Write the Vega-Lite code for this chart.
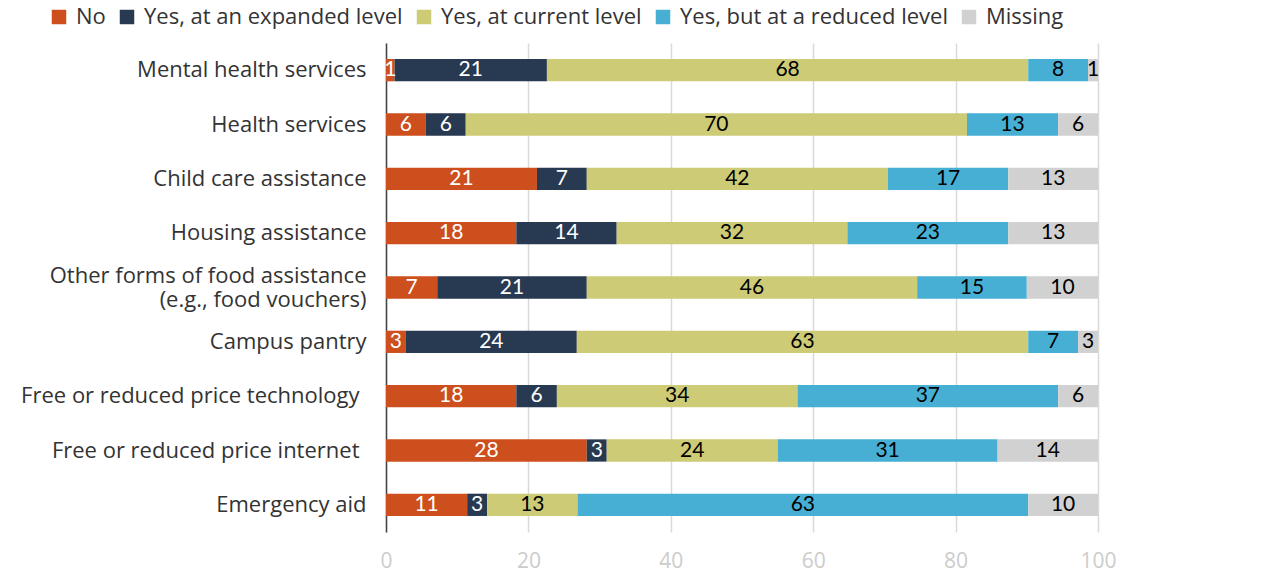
{
  "$schema": "https://vega.github.io/schema/vega-lite/v6.json",
  "width": 712,
  "height": 489,
  "autosize": {"type": "none"},
  "padding": {"left": 386, "top": 43, "right": 182, "bottom": 44},
  "config": {
    "font": "Open Sans",
    "view": {"stroke": null}
  },
  "data": {
    "values": [
      {"category": "Mental health services", "series": "No", "ord": 1, "value": 1.2},
      {"category": "Mental health services", "series": "Yes, at an expanded level", "ord": 2, "value": 21.4},
      {"category": "Mental health services", "series": "Yes, at current level", "ord": 3, "value": 67.6},
      {"category": "Mental health services", "series": "Yes, but at a reduced level", "ord": 4, "value": 8.4},
      {"category": "Mental health services", "series": "Missing", "ord": 5, "value": 1.4},

      {"category": "Health services", "series": "No", "ord": 1, "value": 5.6},
      {"category": "Health services", "series": "Yes, at an expanded level", "ord": 2, "value": 5.6},
      {"category": "Health services", "series": "Yes, at current level", "ord": 3, "value": 70.4},
      {"category": "Health services", "series": "Yes, but at a reduced level", "ord": 4, "value": 12.8},
      {"category": "Health services", "series": "Missing", "ord": 5, "value": 5.6},

      {"category": "Child care assistance", "series": "No", "ord": 1, "value": 21.2},
      {"category": "Child care assistance", "series": "Yes, at an expanded level", "ord": 2, "value": 7.0},
      {"category": "Child care assistance", "series": "Yes, at current level", "ord": 3, "value": 42.3},
      {"category": "Child care assistance", "series": "Yes, but at a reduced level", "ord": 4, "value": 16.9},
      {"category": "Child care assistance", "series": "Missing", "ord": 5, "value": 12.6},

      {"category": "Housing assistance", "series": "No", "ord": 1, "value": 18.3},
      {"category": "Housing assistance", "series": "Yes, at an expanded level", "ord": 2, "value": 14.1},
      {"category": "Housing assistance", "series": "Yes, at current level", "ord": 3, "value": 32.4},
      {"category": "Housing assistance", "series": "Yes, but at a reduced level", "ord": 4, "value": 22.6},
      {"category": "Housing assistance", "series": "Missing", "ord": 5, "value": 12.6},

      {"category": "Other forms of food assistance|(e.g., food vouchers)", "series": "No", "ord": 1, "value": 7.2},
      {"category": "Other forms of food assistance|(e.g., food vouchers)", "series": "Yes, at an expanded level", "ord": 2, "value": 21.0},
      {"category": "Other forms of food assistance|(e.g., food vouchers)", "series": "Yes, at current level", "ord": 3, "value": 46.4},
      {"category": "Other forms of food assistance|(e.g., food vouchers)", "series": "Yes, but at a reduced level", "ord": 4, "value": 15.4},
      {"category": "Other forms of food assistance|(e.g., food vouchers)", "series": "Missing", "ord": 5, "value": 10.0},

      {"category": "Campus pantry", "series": "No", "ord": 1, "value": 2.8},
      {"category": "Campus pantry", "series": "Yes, at an expanded level", "ord": 2, "value": 24.0},
      {"category": "Campus pantry", "series": "Yes, at current level", "ord": 3, "value": 63.4},
      {"category": "Campus pantry", "series": "Yes, but at a reduced level", "ord": 4, "value": 7.0},
      {"category": "Campus pantry", "series": "Missing", "ord": 5, "value": 2.8},

      {"category": "Free or reduced price technology", "series": "No", "ord": 1, "value": 18.3},
      {"category": "Free or reduced price technology", "series": "Yes, at an expanded level", "ord": 2, "value": 5.7},
      {"category": "Free or reduced price technology", "series": "Yes, at current level", "ord": 3, "value": 33.8},
      {"category": "Free or reduced price technology", "series": "Yes, but at a reduced level", "ord": 4, "value": 36.6},
      {"category": "Free or reduced price technology", "series": "Missing", "ord": 5, "value": 5.6},

      {"category": "Free or reduced price internet", "series": "No", "ord": 1, "value": 28.2},
      {"category": "Free or reduced price internet", "series": "Yes, at an expanded level", "ord": 2, "value": 2.8},
      {"category": "Free or reduced price internet", "series": "Yes, at current level", "ord": 3, "value": 24.0},
      {"category": "Free or reduced price internet", "series": "Yes, but at a reduced level", "ord": 4, "value": 30.9},
      {"category": "Free or reduced price internet", "series": "Missing", "ord": 5, "value": 14.1},

      {"category": "Emergency aid", "series": "No", "ord": 1, "value": 11.4},
      {"category": "Emergency aid", "series": "Yes, at an expanded level", "ord": 2, "value": 2.8},
      {"category": "Emergency aid", "series": "Yes, at current level", "ord": 3, "value": 12.7},
      {"category": "Emergency aid", "series": "Yes, but at a reduced level", "ord": 4, "value": 63.3},
      {"category": "Emergency aid", "series": "Missing", "ord": 5, "value": 9.8}
    ]
  },
  "transform": [
    {"stack": "value", "groupby": ["category"], "sort": [{"field": "ord", "order": "ascending"}], "as": ["x0", "x1"], "offset": "zero"},
    {"calculate": "(datum.x0 + datum.x1) / 2", "as": "xmid"}
  ],
  "encoding": {
    "y": {
      "field": "category",
      "type": "nominal",
      "sort": [
        "Mental health services",
        "Health services",
        "Child care assistance",
        "Housing assistance",
        "Other forms of food assistance|(e.g., food vouchers)",
        "Campus pantry",
        "Free or reduced price technology",
        "Free or reduced price internet",
        "Emergency aid"
      ],
      "scale": {"paddingInner": 0.59, "paddingOuter": 0.295},
      "axis": {
        "title": null,
        "labelExpr": "split(datum.value, '|')",
        "labelFontSize": 22,
        "labelColor": "#333333",
        "labelPadding": {"condition": {"test": "indexof(datum.value, 'Free or') === 0", "value": 27}, "value": 20},
        "labelLimit": 420,
        "labelLineHeight": 24,
        "labelOffset": {"condition": {"test": "indexof(datum.value, '|') >= 0", "value": -12}, "value": 0},
        "ticks": false,
        "domain": true,
        "domainColor": "#444444",
        "domainWidth": 1.5,
        "grid": false
      }
    }
  },
  "layer": [
    {
      "mark": {"type": "bar"},
      "encoding": {
        "x": {
          "field": "x0",
          "type": "quantitative",
          "scale": {"domain": [0, 100], "nice": false},
          "axis": {
            "title": null,
            "values": [0, 20, 40, 60, 80, 100],
            "labelFontSize": 21,
            "labelColor": "#cccccc",
            "labelPadding": 18,
            "ticks": false,
            "domain": false,
            "grid": true,
            "gridColor": "#d9d9d9",
            "gridWidth": 1.5,
            "labelFlush": false
          }
        },
        "x2": {"field": "x1"},
        "color": {
          "field": "series",
          "type": "nominal",
          "scale": {
            "domain": ["No", "Yes, at an expanded level", "Yes, at current level", "Yes, but at a reduced level", "Missing"],
            "range": ["#cc4f1d", "#283a52", "#cdcb76", "#46afd3", "#d1d1d1"]
          },
          "legend": {
            "title": null,
            "orient": "none",
            "direction": "horizontal",
            "legendX": -338,
            "legendY": -37,
            "symbolType": "square",
            "symbolSize": 210,
            "symbolStrokeWidth": 0,
            "labelFontSize": 22,
            "labelColor": "#333333",
            "labelOffset": 6,
            "columnPadding": 10,
            "labelLimit": 400
          }
        }
      }
    },
    {
      "mark": {"type": "text", "fontSize": 21, "align": "center", "baseline": "middle", "font": "Lato"},
      "encoding": {
        "x": {"field": "xmid", "type": "quantitative"},
        "text": {"field": "value", "type": "quantitative", "format": ".0f"},
        "color": {
          "condition": {"test": "datum.series === 'No' || datum.series === 'Yes, at an expanded level'", "value": "#ffffff"},
          "value": "#000000"
        }
      }
    }
  ]
}
